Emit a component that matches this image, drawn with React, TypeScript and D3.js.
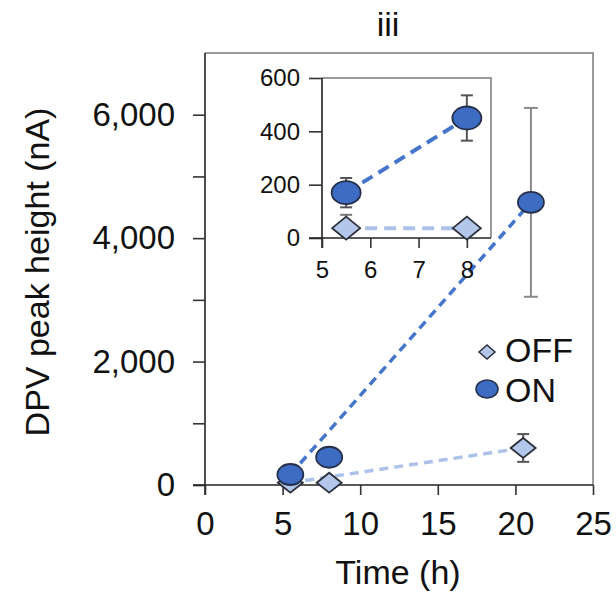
import React, { useEffect, useRef } from 'react';
import * as d3 from 'd3';

// main panel data (time in h, DPV peak height in nA)
const offTime = [5.5, 8, 20.5];
const offValue = [37, 37, 600];
const offErr = [50, 20, 225];

const onTime = [5.5, 8, 21];
const onValue = [170, 450, 4580];
const onErr = [55, 85, 1530];

// inset shows the first two time points only
const insetTime = [5.5, 8];

const mainXTicks = [0, 5, 10, 15, 20, 25];
const mainYTicks = [0, 1000, 2000, 3000, 4000, 5000, 6000];
const mainYLabels = [0, 2000, 4000, 6000];
const insetXTicks = [5, 6, 7, 8];
const insetYTicks = [0, 200, 400, 600];

const legendLabels = ['OFF', 'ON'];

const FONT = '"Liberation Sans", Arial, Helvetica, sans-serif';
const ON_FILL = '#3d6cc2';
const OFF_FILL = '#b3c7ea';
const ON_LINE = '#4575cb';
const OFF_LINE = '#adc2e9';

const App = () => {
  const ref = useRef<SVGSVGElement>(null);

  useEffect(() => {
    const svg = d3.select(ref.current);
    svg.selectAll('*').remove();

    const width = 616, height = 594;
    svg.attr('width', width).attr('height', height);

    // ---------- main plot ----------
    const x = d3.scaleLinear().domain([0, 25]).range([205, 593]);
    const y = d3.scaleLinear().domain([0, 7000]).range([485, 53]);

    // frame (top / right)
    svg.append('path')
      .attr('d', `M${x(0)},${y(7000)}H${x(25)}V${y(0)}`)
      .attr('fill', 'none')
      .attr('stroke', '#9a9a9a')
      .attr('stroke-width', 2);

    const yAxis = svg.append('g')
      .attr('transform', `translate(${x(0)},0)`)
      .call(d3.axisLeft(y)
        .tickValues(mainYTicks)
        .tickSize(12)
        .tickPadding(18)
        .tickFormat(d => (mainYLabels.includes(+d) ? d3.format(',')(+d) : '')));

    const xAxis = svg.append('g')
      .attr('transform', `translate(0,${y(0)})`)
      .call(d3.axisBottom(x)
        .tickValues(mainXTicks)
        .tickSize(10)
        .tickPadding(17)
        .tickFormat(d3.format('d')));

    [yAxis, xAxis].forEach(g => {
      g.select('.domain').attr('stroke', '#222').attr('stroke-width', 1.6);
      g.selectAll('.tick line').attr('stroke', '#333').attr('stroke-width', 1.6);
      g.selectAll('.tick text')
        .attr('fill', '#111')
        .style('font-family', FONT)
        .style('font-size', '33px');
    });
    // axis lines run past the origin like the ticks
    yAxis.select('.domain').attr('d', `M0,${y(7000)}V${y(0) + 10}`);
    xAxis.select('.domain').attr('d', `M${x(0) - 12},0H${x(25)}`);

    // dashed trend lines (drawn from first to last time point)
    const line = d3.line<[number, number]>().x(d => x(d[0])).y(d => y(d[1]));
    const ends = (t: number[], v: number[]): [number, number][] =>
      [[t[0], v[0]], [t[t.length - 1], v[v.length - 1]]];

    svg.append('path')
      .attr('d', line(ends(offTime, offValue)))
      .attr('fill', 'none')
      .attr('stroke', OFF_LINE)
      .attr('stroke-width', 3.5)
      .attr('stroke-dasharray', '9,6');

    svg.append('path')
      .attr('d', line(ends(onTime, onValue)))
      .attr('fill', 'none')
      .attr('stroke', ON_LINE)
      .attr('stroke-width', 3.5)
      .attr('stroke-dasharray', '9,6');

    const errorBars = (g, xs, ys, t, v, e, color, cap) => {
      const eb = g.append('g');
      t.forEach((tt, i) => {
        const cx = xs(tt);
        const top = ys(v[i] + e[i]);
        const bot = ys(Math.max(ys.domain()[0], v[i] - e[i]));
        eb.append('line').attr('x1', cx).attr('x2', cx).attr('y1', top).attr('y2', bot)
          .attr('stroke', color).attr('stroke-width', 2);
        eb.append('line').attr('x1', cx - cap).attr('x2', cx + cap).attr('y1', top).attr('y2', top)
          .attr('stroke', color).attr('stroke-width', 2);
        if (v[i] - e[i] > ys.domain()[0]) {
          eb.append('line').attr('x1', cx - cap).attr('x2', cx + cap).attr('y1', bot).attr('y2', bot)
            .attr('stroke', color).attr('stroke-width', 2);
        }
      });
    };

    const diamonds = (g, xs, ys, t, v, hw, hh) => {
      g.selectAll(null)
        .data(t.map((tt, i) => [tt, v[i]]))
        .join('path')
          .attr('d', d => {
            const cx = xs(d[0]), cy = ys(d[1]);
            return `M${cx - hw},${cy}L${cx},${cy - hh}L${cx + hw},${cy}L${cx},${cy + hh}Z`;
          })
          .attr('fill', OFF_FILL)
          .attr('stroke', '#2c2f38')
          .attr('stroke-width', 1.8);
    };

    const ellipses = (g, xs, ys, t, v, rx, ry) => {
      g.selectAll(null)
        .data(t.map((tt, i) => [tt, v[i]]))
        .join('ellipse')
          .attr('cx', d => xs(d[0]))
          .attr('cy', d => ys(d[1]))
          .attr('rx', rx)
          .attr('ry', ry)
          .attr('fill', ON_FILL)
          .attr('stroke', '#26304a')
          .attr('stroke-width', 1.8);
    };

    // only the 20 h points carry visible error bars at this scale
    errorBars(svg, x, y, offTime.slice(2), offValue.slice(2), offErr.slice(2), '#555', 6);
    errorBars(svg, x, y, onTime.slice(2), onValue.slice(2), onErr.slice(2), '#8a8a8a', 7);

    diamonds(svg, x, y, offTime, offValue, 12.5, 10);
    ellipses(svg, x, y, onTime, onValue, 13, 10.5);

    // ---------- inset ----------
    const ix = d3.scaleLinear().domain([5, 8.5]).range([322, 491]);
    const iy = d3.scaleLinear().domain([0, 600]).range([238, 78]);
    const inset = svg.append('g');

    inset.append('rect')
      .attr('x', ix(5)).attr('y', iy(600))
      .attr('width', ix(8.5) - ix(5)).attr('height', iy(0) - iy(600))
      .attr('fill', '#fff');
    inset.append('path')
      .attr('d', `M${ix(5)},${iy(600)}H${ix(8.5)}V${iy(0)}`)
      .attr('fill', 'none')
      .attr('stroke', '#9a9a9a')
      .attr('stroke-width', 2);

    const iyAxis = inset.append('g')
      .attr('transform', `translate(${ix(5)},0)`)
      .call(d3.axisLeft(iy).tickValues(insetYTicks).tickSize(13).tickPadding(9));
    const ixAxis = inset.append('g')
      .attr('transform', `translate(0,${iy(0)})`)
      .call(d3.axisBottom(ix).tickValues(insetXTicks).tickSize(10).tickPadding(13).tickFormat(d3.format('d')));

    [iyAxis, ixAxis].forEach(g => {
      g.select('.domain').attr('stroke', '#222').attr('stroke-width', 1.6);
      g.selectAll('.tick line').attr('stroke', '#333').attr('stroke-width', 1.6);
      g.selectAll('.tick text')
        .attr('fill', '#111')
        .style('font-family', FONT)
        .style('font-size', '24px');
    });
    iyAxis.select('.domain').attr('d', `M0,${iy(600)}V${iy(0) + 10}`);
    ixAxis.select('.domain').attr('d', `M${ix(5) - 13},0H${ix(8.5)}`);

    const iline = d3.line<[number, number]>().x(d => ix(d[0])).y(d => iy(d[1]));
    const firstTwo = (t: number[], v: number[]): [number, number][] =>
      insetTime.map((tt, i) => [t[i], v[i]]);

    inset.append('path')
      .attr('d', iline(firstTwo(offTime, offValue)))
      .attr('fill', 'none')
      .attr('stroke', OFF_LINE)
      .attr('stroke-width', 4)
      .attr('stroke-dasharray', '12,7');
    inset.append('path')
      .attr('d', iline(firstTwo(onTime, onValue)))
      .attr('fill', 'none')
      .attr('stroke', ON_LINE)
      .attr('stroke-width', 4)
      .attr('stroke-dasharray', '12,7');

    errorBars(inset, ix, iy, insetTime, onValue.slice(0, 2), onErr.slice(0, 2), '#555', 6);
    errorBars(inset, ix, iy, insetTime.slice(0, 1), offValue.slice(0, 1), offErr.slice(0, 1), '#777', 6);
    diamonds(inset, ix, iy, insetTime, offValue.slice(0, 2), 14, 11.5);
    ellipses(inset, ix, iy, insetTime, onValue.slice(0, 2), 14.5, 11.5);

    // ---------- legend ----------
    const legend = svg.append('g').attr('transform', 'translate(487,352)');
    legend.append('path')
      .attr('d', 'M-8,0L0,-7L8,0L0,7Z')
      .attr('fill', OFF_FILL)
      .attr('stroke', '#2c2f38')
      .attr('stroke-width', 1.5);
    legend.append('ellipse')
      .attr('cx', 0).attr('cy', 37).attr('rx', 11).attr('ry', 9)
      .attr('fill', ON_FILL)
      .attr('stroke', '#26304a')
      .attr('stroke-width', 1.5);
    legend.selectAll('text')
      .data(legendLabels)
      .join('text')
        .attr('x', 18)
        .attr('y', (d, i) => -2 + i * 40)
        .attr('dy', '0.36em')
        .attr('fill', '#111')
        .style('font-family', FONT)
        .style('font-size', '34px')
        .text(d => d);

    // ---------- titles ----------
    svg.append('text')
      .attr('x', 388).attr('y', 24).attr('dy', '0.36em')
      .attr('text-anchor', 'middle')
      .attr('fill', '#111')
      .style('font-family', FONT).style('font-size', '34px')
      .text('iii');

    svg.append('text')
      .attr('x', 398).attr('y', 572).attr('dy', '0.36em')
      .attr('text-anchor', 'middle')
      .attr('fill', '#111')
      .style('font-family', FONT).style('font-size', '34px')
      .text('Time (h)');

    svg.append('text')
      .attr('transform', 'translate(37,272) rotate(-90)')
      .attr('dy', '0.36em')
      .attr('text-anchor', 'middle')
      .attr('fill', '#111')
      .style('font-family', FONT).style('font-size', '34px')
      .text('DPV peak height (nA)');
  }, []);

  return (
    <svg ref={ref} width={616} height={594} style={{ position: 'absolute', left: 0, top: 0 }}></svg>
  );
};

export default App;
